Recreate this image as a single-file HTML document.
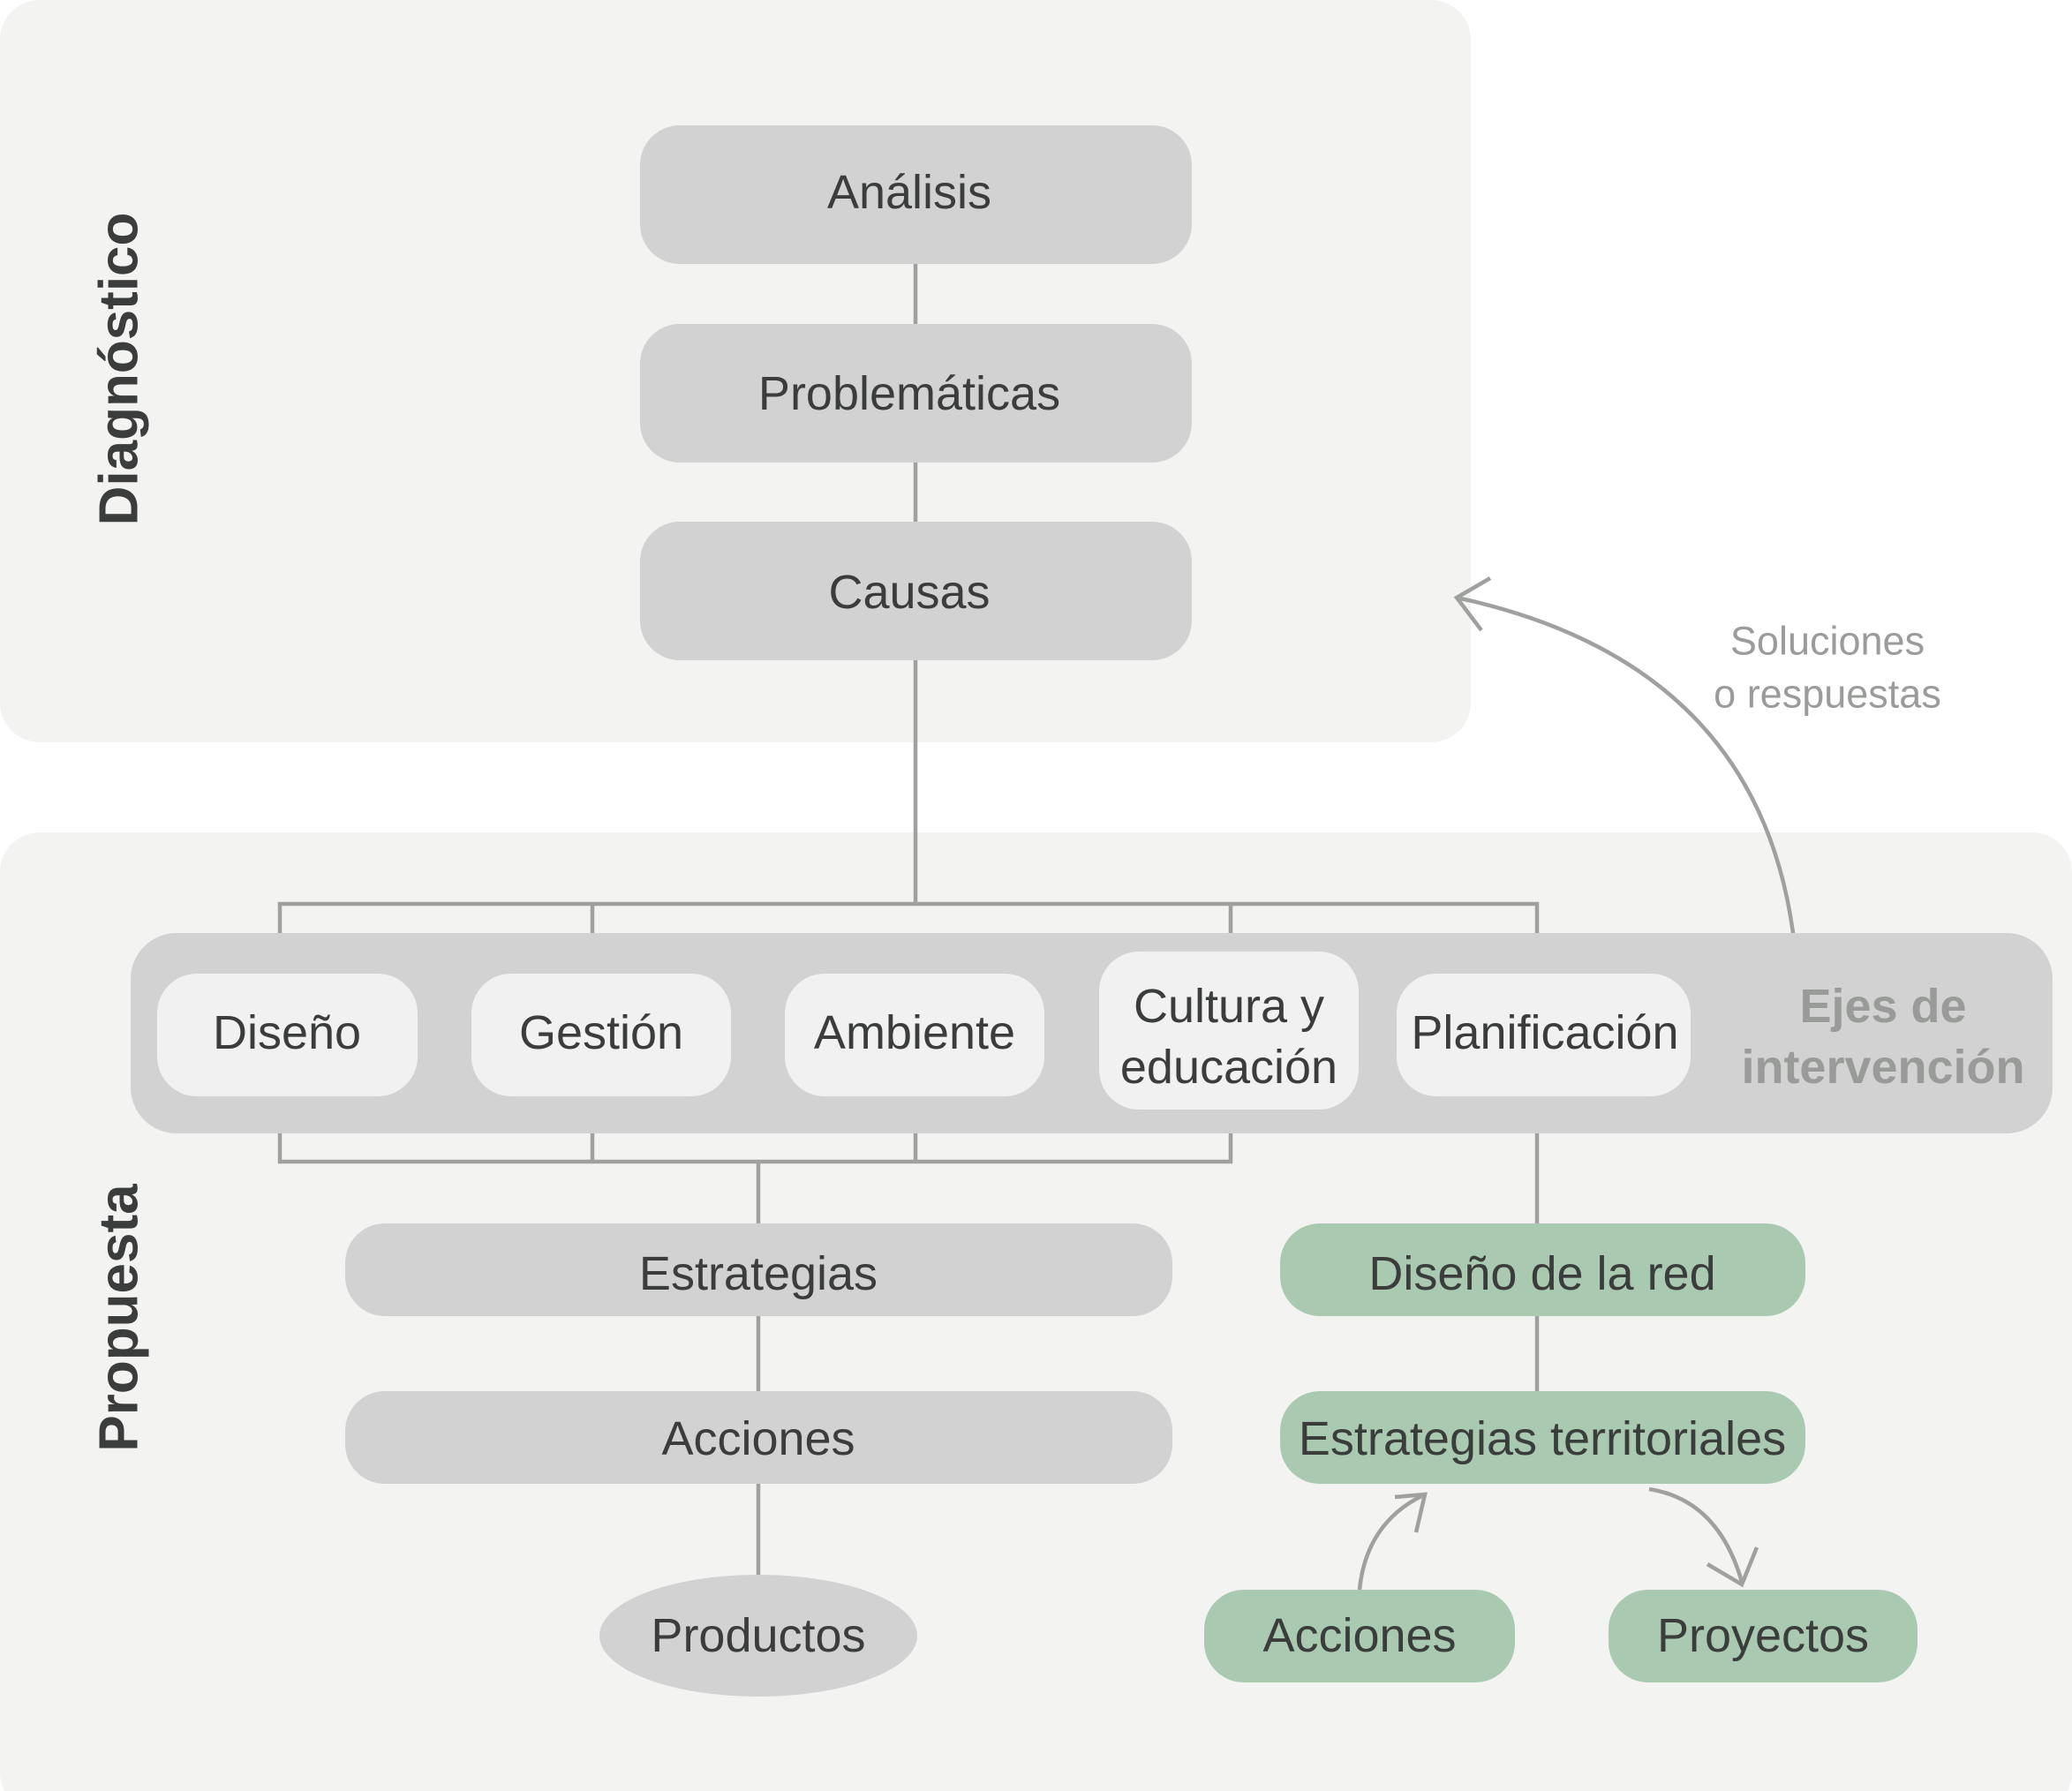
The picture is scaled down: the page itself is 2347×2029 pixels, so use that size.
<!DOCTYPE html>
<html><head><meta charset="utf-8"><style>
html,body{margin:0;padding:0;background:#fff;}
svg{display:block;}
text{font-family:"Liberation Sans",sans-serif;}
</style></head><body>
<svg width="2347" height="2029" viewBox="0 0 2347 2029" xmlns="http://www.w3.org/2000/svg">
<defs>
<marker id="ah" viewBox="0 0 20 20" refX="10" refY="10" markerWidth="9" markerHeight="9" markerUnits="userSpaceOnUse" orient="auto"></marker>
</defs>
<!-- panels -->
<rect x="0" y="0" width="1666" height="841" rx="45" fill="#f3f3f2"/>
<rect x="0" y="943" width="2347" height="1110" rx="45" fill="#f3f3f2"/>

<g stroke="#9fa19f" stroke-width="4.5" fill="none">
<line x1="1037" y1="299" x2="1037" y2="1024"/>
<polyline points="317,1057 317,1024 1741,1024 1741,1057"/>
<line x1="671" y1="1024" x2="671" y2="1057"/>
<line x1="1394" y1="1024" x2="1394" y2="1057"/>
<polyline points="317,1284 317,1316 1394,1316 1394,1284"/>
<line x1="671" y1="1284" x2="671" y2="1316"/>
<line x1="1037" y1="1284" x2="1037" y2="1316"/>
<line x1="859" y1="1316" x2="859" y2="1386"/>
<line x1="859" y1="1491" x2="859" y2="1576"/>
<line x1="859" y1="1681" x2="859" y2="1784"/>
<line x1="1741" y1="1284" x2="1741" y2="1386"/>
<line x1="1741" y1="1491" x2="1741" y2="1576"/>
<!-- big arrow -->
<path d="M2031,1057 C2000,830 1850,720 1650,677"/>
<polyline points="1688,655 1650,677 1678,714"/>
<!-- small arrows -->
<path d="M1540,1801 C1545,1750 1570,1715 1610,1695"/>
<polyline points="1580,1696 1614,1693 1604,1736"/>
<path d="M1868,1687 C1920,1695 1955,1730 1973,1792"/>
<polyline points="1934,1772 1973,1795 1990,1753"/>
</g>

<!-- diagnostic boxes -->
<g fill="#d1d2d1">
<rect x="725" y="142" width="625" height="157" rx="45"/>
<rect x="725" y="367" width="625" height="157" rx="45"/>
<rect x="725" y="591" width="625" height="157" rx="45"/>
<rect x="148" y="1057" width="2177" height="227" rx="52"/>
<rect x="391" y="1386" width="937" height="105" rx="45"/>
<rect x="391" y="1576" width="937" height="105" rx="45"/>
<ellipse cx="859" cy="1853" rx="180" ry="69"/>
</g>
<g fill="#f0f1f0">
<rect x="178" y="1103" width="295" height="139" rx="45"/>
<rect x="534" y="1103" width="294" height="139" rx="45"/>
<rect x="889" y="1103" width="294" height="139" rx="45"/>
<rect x="1245" y="1078" width="294" height="179" rx="45"/>
<rect x="1582" y="1103" width="333" height="139" rx="45"/>
</g>
<g fill="#aac9b1">
<rect x="1450" y="1386" width="595" height="105" rx="45"/>
<rect x="1450" y="1576" width="595" height="105" rx="45"/>
<rect x="1364" y="1801" width="352" height="105" rx="45"/>
<rect x="1822" y="1801" width="350" height="105" rx="45"/>
</g>

<g fill="#3a3d3b" font-size="54" text-anchor="middle" dominant-baseline="central">
<text x="1030" y="218">Análisis</text>
<text x="1030" y="446">Problemáticas</text>
<text x="1030" y="671">Causas</text>
<text x="325" y="1170">Diseño</text>
<text x="681" y="1170">Gestión</text>
<text x="1036" y="1170">Ambiente</text>
<text x="1392" y="1140">Cultura y</text>
<text x="1392" y="1209">educación</text>
<text x="1750" y="1170">Planificación</text>
<text x="859" y="1443">Estrategias</text>
<text x="859" y="1630">Acciones</text>
<text x="859" y="1853">Productos</text>
<text x="1747" y="1443">Diseño de la red</text>
<text x="1747" y="1630">Estrategias territoriales</text>
<text x="1540" y="1853">Acciones</text>
<text x="1997" y="1853">Proyectos</text>
</g>
<g fill="#999b99" font-size="54" font-weight="bold" text-anchor="middle" dominant-baseline="central">
<text x="2133" y="1140">Ejes de</text>
<text x="2133" y="1209">intervención</text>
</g>
<g fill="#9a9c9a" font-size="45" text-anchor="middle" dominant-baseline="central">
<text x="2070" y="726">Soluciones</text>
<text x="2070" y="786">o respuestas</text>
</g>
<g fill="#3a3d3b" font-size="62" font-weight="bold" text-anchor="middle" dominant-baseline="central">
<text transform="translate(135,418) rotate(-90)">Diagnóstico</text>
<text transform="translate(135,1493) rotate(-90)">Propuesta</text>
</g>
</svg>
</body></html>
